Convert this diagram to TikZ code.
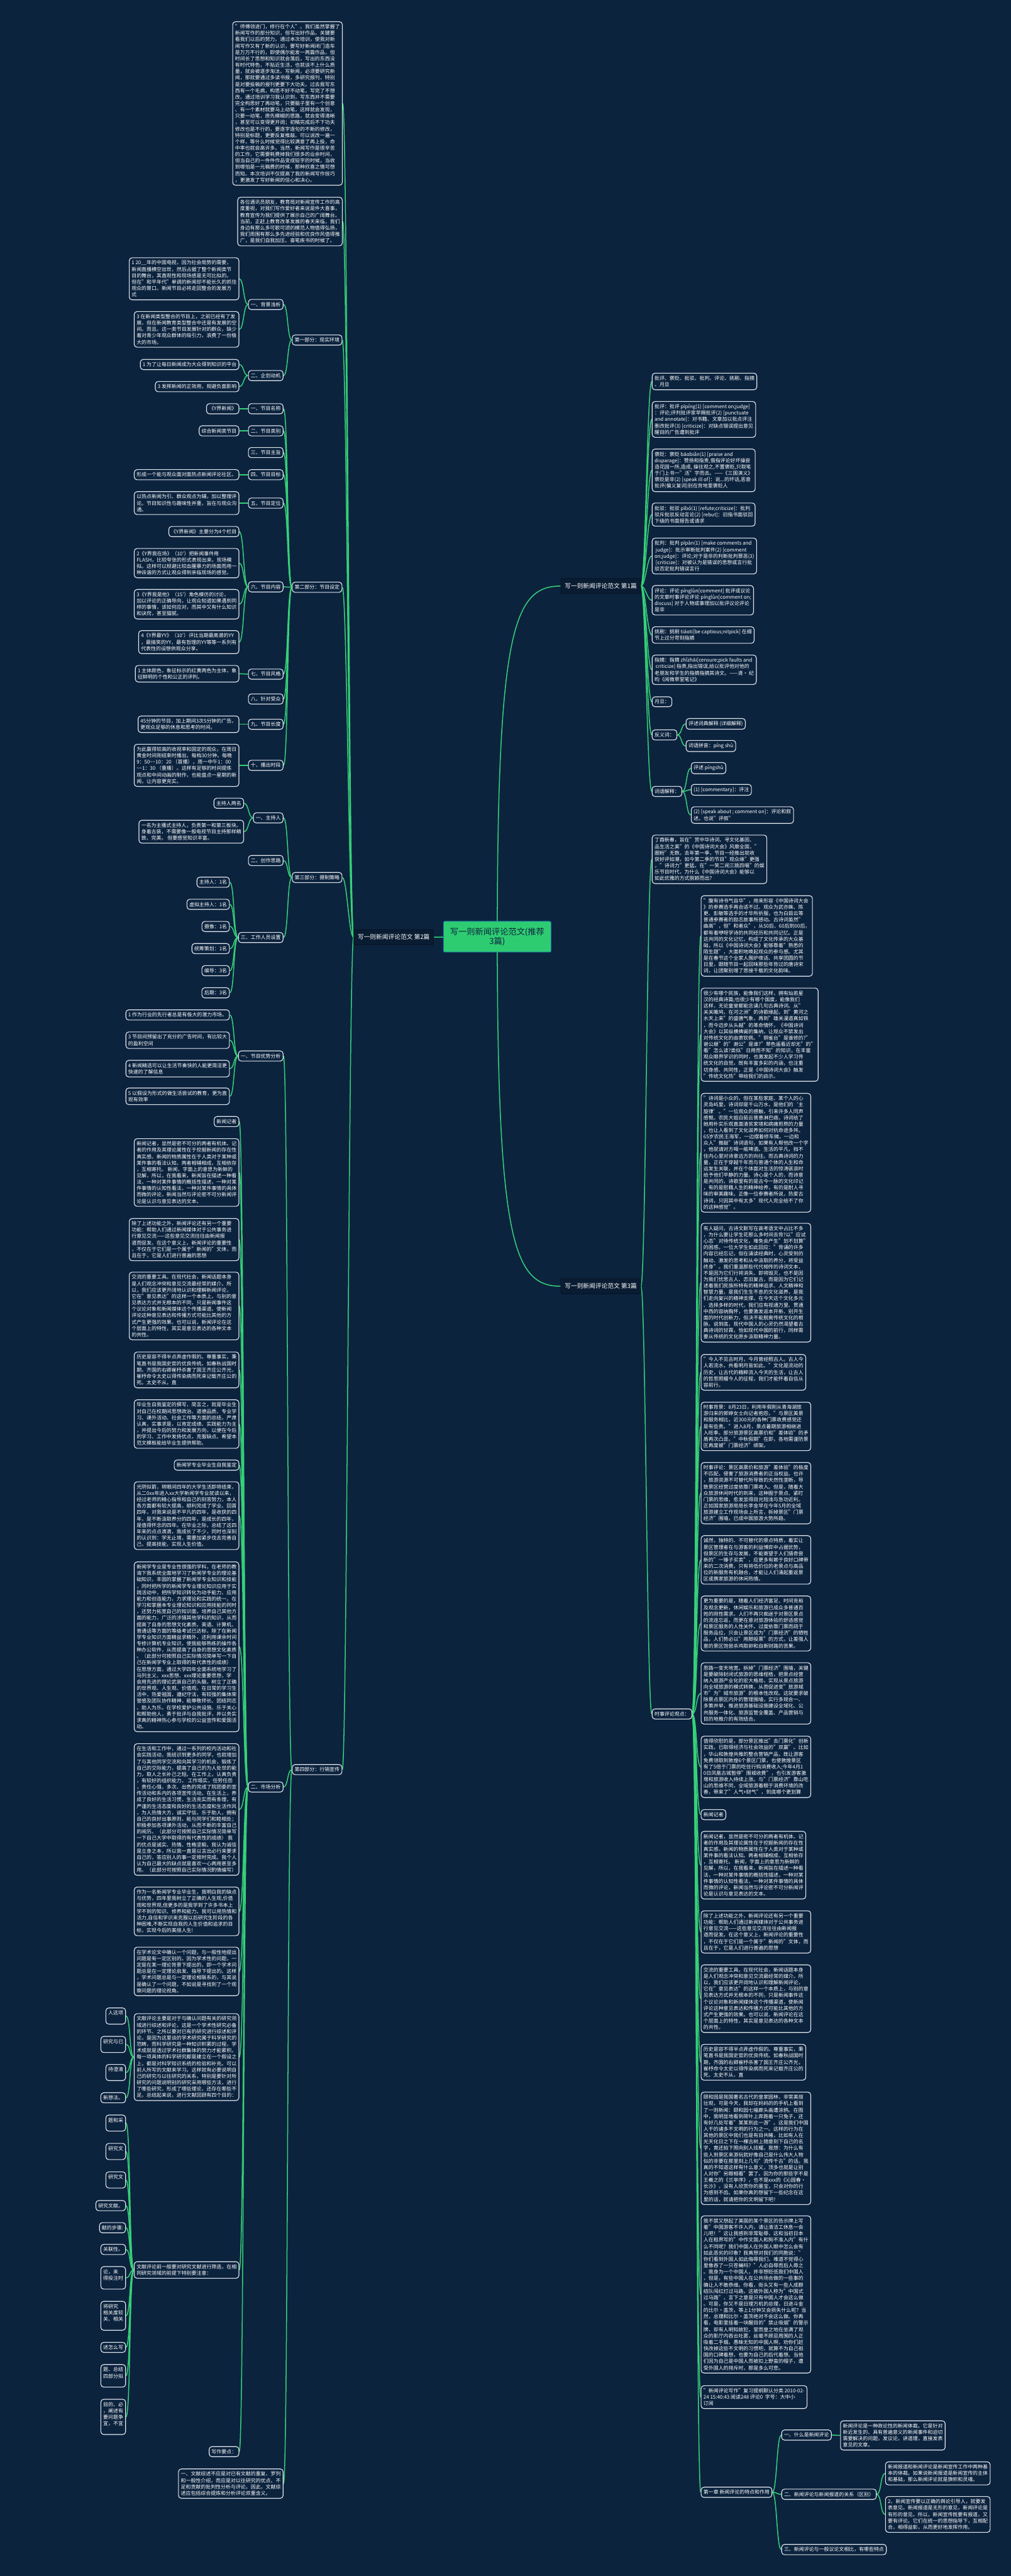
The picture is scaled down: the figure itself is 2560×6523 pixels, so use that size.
\documentclass[tikz,border=0pt]{standalone}
\usepackage{fontspec}
\setmainfont{Noto Sans CJK SC}
\usetikzlibrary{calc}
\definecolor{bgc}{RGB}{12,35,62}
\definecolor{lineg}{RGB}{54,209,120}
\definecolor{boxline}{RGB}{225,230,236}
\definecolor{rootg}{RGB}{46,204,113}
\pgfdeclarelayer{bgl}\pgfdeclarelayer{edges}\pgfsetlayers{bgl,edges,main}
\tikzset{
 box/.style={draw=boxline, line width=0.45mm, fill=bgc, rounded corners=1.8mm, text=white, align=left, inner xsep=1.5mm, inner ysep=1.75mm, font=\fontsize{9pt}{11.5pt}\selectfont},
 lbl/.style={draw=black!55!bgc, line width=0.3mm, fill=bgc!80!black, text=white, rounded corners=0.8mm, inner xsep=2.5mm, minimum height=9.5mm, font=\fontsize{11pt}{13pt}\selectfont},
 rootnode/.style={fill=rootg, draw=rootg!60!blue, line width=0.4mm, rounded corners=0.8mm, text=bgc, align=center, minimum width=68mm, minimum height=19.5mm, font=\fontsize{15pt}{17pt}\selectfont},
 conn/.style={draw=lineg, line width=0.6mm},
}
\newcommand\Ledge[2]{\draw[conn] (#1.west) .. controls +(-12,0) and +(12,0) .. (#2.east);}
\newcommand\Redge[2]{\draw[conn] (#1.east) .. controls +(12,0) and +(-12,0) .. (#2.west);}
\begin{document}
\begin{tikzpicture}[x=0.25mm,y=-0.25mm]
\useasboundingbox (0,0) rectangle (2560,6523);
\begin{pgfonlayer}{bgl}
\fill[bgc] (0,0) rectangle (2560,6523);
\end{pgfonlayer}
% root and main branches
\node[rootnode] (C) at (1259.5,2372) {写一则新闻评论范文(推荐\\3篇)};
\node[lbl, anchor=west] (B1) at (1420,1484) {写一则新闻评论范文 第1篇};
\node[lbl, anchor=east] (B2) at (1099,2373) {写一则新闻评论范文 第2篇};
\node[lbl, anchor=west] (B3) at (1420,3257) {写一则新闻评论范文 第3篇};
% ===== LEFT: 第2篇 =====
\node[box, anchor=east] (LA) at (868,262) {"师傅领进门，修行在个人"。我们虽然掌握了\\新闻写作的部分知识，但写出好作品，关键要\\看我们以后的努力。通过本次培训，使我对新\\闻写作又有了新的认识，要写好新闻闭门造车\\是万万不行的，即使偶尔能发一两篇作品，但\\时间长了思想和知识就会落后，写出的东西没\\有时代特色，不贴近生活，也就谈不上什么质\\量，就会被逐步淘汰。写新闻，必须要研究新\\闻，那就要通过多读书报，多研究报刊，特别\\是对要投稿的报刊更要下大功夫。过去我写东\\西有一个毛病，构思不好不动笔，写完了不想\\改。通过培训学习我认识到，写东西并不需要\\完全构思好了再动笔，只要脑子里有一个创意\\、有一个素材就要马上动笔，这样就会发现，\\只要一动笔，原先模糊的思路，就会变得清晰\\，甚至可以变得更开阔；初稿完成后不下功夫\\修改也是不行的，要逐字逐句的不断的修改，\\特别是标题，更要反复推敲。可以说改一遍一\\个样，等什么时候觉得比较满意了再上投，命\\中率也就会高许多。当然，新闻写作是很辛苦\\的工作，它需要耗费掉我们很多的业余时间，\\但当自己的一件件作品变成铅字的时候，当收\\到哪怕是一元稿费的时候，那种欣喜之情可想\\而知。本次培训不仅提高了我的新闻写作技巧\\，更激发了写好新闻的信心和决心。};
\node[box, anchor=east] (LB) at (868,561) {各位通讯员朋友，教育局对新闻宣传工作的高\\度重视，对我们写作爱好者来说是件大喜事，\\教育宣传为我们提供了展示自己的广阔舞台。\\当前，正赶上教育改革发展的春天来临，我们\\身边有那么多可歌可颂的模范人物值得弘扬，\\我们周围有那么多先进经验和优良作风值得推\\广，是我们自我加压、奋笔疾书的时候了。};
\node[box, anchor=east] (P1) at (867,861) {第一部分：现实环境};
\node[box, anchor=east] (P1a) at (718,771) {一、背景浅析};
\node[box, anchor=east] (P1a1) at (606,706) {1 20\_\_年的中国电视，因为社会局势的需要，\\新闻直播横空出世，然后占据了整个新闻类节\\目的舞台，其直观性和现场感是无可比拟的。\\但在"和平年代"单调的新闻却不能长久的抓住\\观众的胃口。新闻节目必将走回整合的发展方\\式};
\node[box, anchor=east] (P1a2) at (606,834) {3 在新闻类型整合的节目上，之前已经有了发\\展，但在新闻教育类型整合中还是有发展的空\\间。而且。这一类节目发展针对的群众，缺少\\着对青少年观众群体的吸引力，浪费了一份极\\大的市场。};
\node[box, anchor=east] (P1b) at (718,951) {二、企划动机};
\node[box, anchor=east] (P1b1) at (606,923) {1 为了让每日新闻成为大众得到知识的平台};
\node[box, anchor=east] (P1b2) at (606,979) {3 发挥新闻的正效用，规避负面影响};
\node[box, anchor=east] (P2) at (867,1487) {第二部分：节目设定};
\node[box, anchor=east] (S1) at (718,1035) {一、节目名称};
\node[box, anchor=east] (S1c) at (606,1035) {《Y界新闻》};
\node[box, anchor=east] (S2) at (718,1091) {二、节目类别};
\node[box, anchor=east] (S2c) at (606,1091) {综合新闻类节目};
\node[box, anchor=east] (S3) at (718,1146) {三、节目主旨};
\node[box, anchor=east] (S4) at (718,1202) {四、节目目标};
\node[box, anchor=east] (S4c) at (606,1202) {形成一个能与观众面对面热点新闻评论社区。};
\node[box, anchor=east] (S5) at (718,1274) {五、节目定位};
\node[box, anchor=east] (S5c) at (606,1274) {以热点新闻为引、群众观点为辅，加以整理评\\论。节目知识性与趣味性并重，旨在与观众沟\\通。};
\node[box, anchor=east] (S6) at (718,1486) {六、节目内容};
\node[box, anchor=east] (S6a) at (606,1346) {《Y界新闻》主要分为4个栏目};
\node[box, anchor=east] (S6b) at (606,1426) {2《Y界我在场》（10′）把新闻事件用\\FLASH，比较夸张的形式表现出来，现场模\\拟。这样可以规避比较血腥暴力的场面而用一\\种诙谐的方式让观众得到亲临现场的感觉。};
\node[box, anchor=east] (S6c) at (606,1530) {3《Y界我是他》（15′）角色模仿的讨论，\\加以评论的正确导向，让观众知道如果遇到同\\样的事情，该如何应对，而其中又有什么知识\\和诀窍，甚至猫腻。};
\node[box, anchor=east] (S6d) at (606,1626) {4《Y界最YY》（10′）评比当期最离谱的YY\\，最搞笑的YY，最有哲理的YY等等一系列有\\代表性的设想供观众分享。};
\node[box, anchor=east] (S7) at (718,1707) {七、节目风格};
\node[box, anchor=east] (S7c) at (606,1706) {1 主体颜色，象征标示的红黄两色为主体，象\\征鲜明的个性和公正的评判。};
\node[box, anchor=east] (S8) at (718,1770) {八、针对受众};
\node[box, anchor=east] (S9) at (718,1834) {九、节目长度};
\node[box, anchor=east] (S9c) at (606,1834) {45分钟的节目，加上期间3次5分钟的广告。\\更观众足够的休息和思考的时间。};
\node[box, anchor=east] (S10) at (718,1938) {十、播出时段};
\node[box, anchor=east] (S10c) at (606,1938) {为此赢得较高的收视率和固定的观众，在周日\\黄金时间刚结束时播出，每档30分钟。每晚\\9：50\textasciitilde\textasciitilde 10：20 （首播），周一中午1：00\\\textasciitilde\textasciitilde 1：30 （重播）。这样有足够的时间提炼\\观点和中间动画的制作，也能盘点一星期的新\\闻，让内容更充实。};
\node[box, anchor=east] (P3) at (867,2222) {第三部分：摄制策略};
\node[box, anchor=east] (H1) at (718,2071) {一、主持人};
\node[box, anchor=east] (H1a) at (618,2034) {主持人两名};
\node[box, anchor=east] (H1b) at (618,2106) {一名为主播式主持人，负责第一和第三板块。\\身着古装，不需要像一般电视节目主持那样精\\致、完美。 但要感觉知识丰富。};
\node[box, anchor=east] (H2) at (718,2179) {二、创作思路};
\node[box, anchor=east] (H3) at (718,2374) {三、工作人员设置};
\node[box, anchor=east] (W1) at (582,2234) {主持人：1名};
\node[box, anchor=east] (W2) at (582,2290) {虚拟主持人：1名};
\node[box, anchor=east] (W3) at (582,2346) {摄像：1名};
\node[box, anchor=east] (W4) at (582,2402) {统筹策划：1名};
\node[box, anchor=east] (W5) at (582,2458) {编导：3名};
\node[box, anchor=east] (W6) at (582,2514) {后期：3名};
\node[box, anchor=east] (P4) at (867,4481) {第四部分：行销宣传};
\node[box, anchor=east] (Y1) at (718,2674) {一、节目优势分析};
\node[box, anchor=east] (Y1a) at (582,2570) {1 作为行业的先行者总是有极大的潜力市场。};
\node[box, anchor=east] (Y1b) at (582,2634) {3 节目间预留出了充分的广告时间，有比较大\\的盈利空间};
\node[box, anchor=east] (Y1c) at (582,2706) {4 新闻精选可以让生活节奏快的人能更简洁更\\快速的了解信息};
\node[box, anchor=east] (Y1d) at (582,2776) {5 以假设为形式的做生活尝试的教育，更为直\\观有效率};
\node[box, anchor=east] (Y2) at (718,4525) {二、市场分析};
\node[box, anchor=east] (Y3) at (718,6289) {一、文献综述不应是对已有文献的重复、罗列\\和一般性介绍，而应是对以往研究的优点、不\\足和贡献的批判性分析与评论。因此，文献综\\述应包括综合提炼和分析评论双重含义。};
\node[box, anchor=east] (M1) at (606,2840) {新闻记者};
\node[box, anchor=east] (M2) at (606,2969) {新闻记者，显然是密不可分的两者有机体。记\\者的作用及其理论属性在于挖掘新闻的存在性\\真实感。新闻的物质属性在于人类对于某种或\\某件事的看法认知。两者相辅相成，互相依存\\，互相寄托。 新闻，字面上的意思为新鲜的\\见解，所以，在我看来，新闻旨在描述一种看\\法，一种对某件事情的概括性描述，一种对某\\件事情的认知性看法，一种对某件事情的具体\\而微的评论，新闻当然与评论密不可分新闻评\\论是认识与意见表达的文本。};
\node[box, anchor=east] (M3) at (606,3139) {除了上述功能之外，新闻评论还有另一个重要\\功能：帮助人们通过新闻媒体对于公共事务进\\行意见交流——这些意见交流往往由新闻报\\道而促发。在这个意义上，新闻评论的重要性\\，不仅在于它们是一个属于"新闻的"文体，而\\且在于，它是人们进行普遍的思想};
\node[box, anchor=east] (M4) at (606,3307) {交流的重要工具。在现代社会，新闻话题本身\\是人们观念冲突和意见交流最经常的媒介。所\\以，我们应该更开阔地认识和理解新闻评论，\\它在"意见表达"的这样一个本质上，与别的意\\见表达方式并无根本的不同，只是新闻事件这\\个议论对象和新闻媒体这个传播渠道，使新闻\\评论这种意见表达和传播方式可能比其他的方\\式产生更强的效果。也可以说，新闻评论在这\\个层面上的特性，其实是意见表达的各种文本\\的共性。};
\node[box, anchor=east] (M5) at (606,3469) {历史是容不得半点弄虚作假的。尊重事实，秉\\笔直书是我国史官的优良传统。如春秋战国时\\期，齐国的右卿崔杼杀害了国王齐庄公齐光，\\崔杼命令太史以得传染病而死来记载齐庄公的\\死。太史不从，直};
\node[box, anchor=east] (M6) at (606,3606) {毕业生自我鉴定的撰写，简言之，就是毕业生\\对自己在校期间思想政治、道德品质、专业学\\习、课外活动、社会工作等方面的总结，严肃\\认真，实事求是，以肯定成绩、实践能力为主\\，并提出今后的努力和发展方向，以便在今后\\的学习、工作中发扬优点，克服缺点。希望本\\范文模板能给毕业生提供帮助。};
\node[box, anchor=east] (M7) at (606,3710) {新闻学专业毕业生自我鉴定};
\node[box, anchor=east] (M8) at (606,3838) {光阴似箭，转眼间四年的大学生活即将结束，\\从二0xx年进入xx大学新闻学专业就读以来，\\经过老师的精心指导和自己的刻苦努力，本人\\各方面都有较大提高，顺利完成了学业。回首\\四年，对我来说是不平凡的四年，是收获的四\\年，是不断汲取养分的四年，是成长的四年，\\是值得怀念的四年。在毕业之际，总结了这四\\年来的点点滴滴，我成长了不少，同时也深刻\\的认识到：学无止境，需要加紧步伐去完善自\\己，提高技能，实现人生价值。};
\node[box, anchor=east] (M9) at (606,4170) {新闻学专业是专业性很强的学科，在老师的教\\诲下我系统全面地学习了新闻学专业的理论基\\础知识，丰固的掌握了新闻学专业知识和技能\\，同时把所学的新闻学专业理论知识应用于实\\践活动中，把所学知识转化为动手能力、应用\\能力和创造能力，力求理论和实践的统一。在\\学习和掌握本专业理论知识和应用技能的同时\\，还努力拓宽自己的知识面，培养自己其他方\\面的能力，广泛的涉猎其他学科的知识，从而\\提高了自身的思想文化素质。英语、计算机、\\普通话等方面的等级考试已达标，除了在新闻\\学专业知识方面精益求精外，还利用课余时间\\专修计算机专业知识，使我能够熟练的操作各\\种办公软件，从而提高了自身的思想文化素质\\。（此部分可按照自己实际情况简单写一下自\\己在新闻学专业上取得的有代表性的成绩）\\在思想方面，通过大学四年全面系统地学习了\\马列主义、xxx思想、xxx理论重要思想，学\\会用先进的理论武装自己的头脑，树立了正确\\的世界观、人生观、价值观。在日常的学习生\\活中，热爱祖国，遵纪守法，有较强的集体荣\\誉感及团队协作精神，能尊敬师长、团结同志\\、助人为乐。在学校爱护公共设施、乐于关心\\和帮助他人，勇于批评与自我批评，并以务实\\求真的精神热心参与学校的公益宣传和爱国活\\动。};
\node[box, anchor=east] (M10) at (606,4582) {在生活和工作中，通过一系列的校内活动和社\\会实践活动，我结识到更多的同学，也就增加\\了与其他同学交流和向其学习的机会，锻炼了\\自己的交际能力，提高了自己的为人处世的能\\力，取人之长补己之短。在工作上，认真负责\\，有较好的组织能力， 工作塌实，任劳任怨\\，责任心强，多次、出色的完成了院团委的宣\\传活动和系内的各项宣传活动。在生活上，养\\成了良好的生活习惯，生活充实而有条理，有\\严谨的生活态度和良好的生活态度和生活作风\\，为人热情大方，诚实守信，乐于助人，拥有\\自己的良好出事原则，能与同学们和睦相处；\\积极参加各项课外活动，从而不断的丰富自己\\的阅历。（此部分可按照自己实际情况简单写\\一下自己大学中取得的有代表性的成绩） 我\\的优点是诚实、热情、性格坚毅。我认为诚信\\是立身之本，所以我一直是以言出必行来要求\\自己的，答应别人的事一定按时完成。我个人\\认为自己最大的缺点就是喜欢一心两用甚至多\\用。（此部分可按照自己实际情况酌情编写）};
\node[box, anchor=east] (M11) at (606,4840) {作为一名新闻学专业毕业生，我明白我的缺点\\与优势，四年里我树立了正确的人生观,价值\\观和世界观,但更多的是我学到了许多书本上\\学不到的知识、修养和能力。我可以用热情和\\活力,自信和学识来克服以后研究生阶段的各\\种困难,不断实现自我的人生价值和追求的目\\标，实现今后的美丽人生!};
\node[box, anchor=east] (M12) at (606,4992) {在学术论文中确认一个问题，与一般性地提出\\问题是有一定区别的。因为学术性的问题，一\\定是在某一理论背景下提出的，即一个学术问\\题总是在一定理论启发、指导下提出的。这样\\，学术问题总是与一定理论相联系的，与其说\\是确认了一个问题，不如说是寻找到了一个观\\察问题的理论视角。};
\node[box, anchor=east] (M13) at (606,5209) {文献评论主要是对于与确认问题有关的研究领\\域进行综述和评论，这是一个学术性研究必备\\的环节。之所以要对已有的研究进行综述和评\\论，是因为这里谈的学术研究属于科学研究的\\范畴，而科学研究是一种知识积累的过程，学\\术成就是透过学术社群集体的努力才能累积。\\每一项具体的科学研究都是建立在一个假设之\\上，都是对科学知识系统的检验和补充。可以\\前人所写的文献来学习。这样就有必要说明自\\己的研究与以往研究的关系，特别是要针对所\\研究的问题说明别的研究采用哪些方法，进行\\了哪些研究，形成了哪些理论，还存在哪些不\\足。总结起来说，进行文献回顾有四个目的：};
\node[box, anchor=east] (M14) at (606,5748) {文献评论前一般要对研究文献进行筛选，在相\\同研究领域的前提下特别要注意：};
\node[box, anchor=east] (M15) at (606,6208) {写作要点：};
% far-left (placeholders)
\node[box, anchor=east] (A1) at (319,5105) {人这项\\ };
\node[box, anchor=east] (A2) at (319,5177) {研究与已\\ };
\node[box, anchor=east] (A3) at (319,5248) {待澄清\\ };
\node[box, anchor=east] (A4) at (319,5312) {新想法。};
\node[box, anchor=east] (Q1) at (319,5376) {题和采\\ };
\node[box, anchor=east] (Q2) at (319,5448) {研究文\\ };
\node[box, anchor=east] (Q3) at (319,5520) {研究文\\ };
\node[box, anchor=east] (Q4) at (319,5585) {研究文献。};
\node[box, anchor=east] (Q5) at (319,5641) {献的步骤:};
\node[box, anchor=east] (Q6) at (319,5696) {关联性。};
\node[box, anchor=east] (Q7) at (319,5768) {论，来\\得投注时\\ };
\node[box, anchor=east] (Q8) at (319,5864) {将研究\\相关度较\\关、相关\\ };
\node[box, anchor=east] (Q9) at (319,5944) {述怎么写};
\node[box, anchor=east] (Q10) at (319,6016) {题、总结\\四部分拟\\ };
\node[box, anchor=east] (Q11) at (319,6120) {目的、必\\，阐述有\\要问题争\\宜，不宜\\ };
% ===== RIGHT: 第1篇 =====
\node[box, anchor=west] (R1) at (1651,966) {批评、褒贬、批驳、批判、评论、挑剔、指摘\\、月旦};
\node[box, anchor=west] (R2) at (1651,1062) {批评：批评 pīpíng(1) [comment on;judge]\\：评论;评判批评家早赐批评(2) [punctuate\\and annotate]：对书籍、文章加以批点评注\\删改批评(3) [criticize]：对缺点错误提出意见\\醒目的广告遭到批评};
\node[box, anchor=west] (R3) at (1651,1191) {褒贬：褒贬 bāobiǎn(1) [praise and\\disparage]：赞扬和指责,借指评论好坏操尝\\造花园一所,造成, 操往观之,不置褒贬,只取笔\\于门上书一"活"字而去。——《三国演义》\\褒贬是非(2) [speak ill of]：说...的坏话,恶意\\批评(偏义复词)别在背地里褒贬人};
\node[box, anchor=west] (R4) at (1651,1303) {批驳：批驳 pībó(1) [refute;criticize]：批判\\驳斥批驳反动言论(2) [rebut]：旧指书面驳回\\下级的书面报告或请求};
\node[box, anchor=west] (R5) at (1651,1408) {批判：批判 pīpàn(1) [make comments and\\{} judge]：批示审断批判案件(2) [comment\\on;judge]：评论;对于是非的判断批判罪恶(3)\\{} [criticize]：对被认为是错误的思想或言行批\\驳否定批判错误言行};
\node[box, anchor=west] (R6) at (1651,1520) {评论：评论 pínglùn[comment] 批评或议论\\的文章时事评论评论 pínglùn[comment on;\\discuss] 对于人物或事理加以批评议论评论\\是非};
\node[box, anchor=west] (R7) at (1651,1608) {挑剔：挑剔 tiāoti[be captious;nitpick] 在细\\节上过分苛刻指摘};
\node[box, anchor=west] (R8) at (1651,1696) {指摘：指摘 zhǐzhāi[censure;pick faults and\\{} criticize] 指责,指出错误,给以批评他对他的\\老朋友和学生的指摘指摘其诗文。——清· 纪\\昀《阅微草堂笔记》};
\node[box, anchor=west] (R9) at (1651,1777) {月旦：};
\node[box, anchor=west] (R10) at (1651,1861) {反义词：};
\node[box, anchor=west] (R10a) at (1737,1833) {评述词典解释 (详细解释)};
\node[box, anchor=west] (R10b) at (1737,1889) {词语拼音：píng shù};
\node[box, anchor=west] (R11) at (1651,2004) {词语解释：};
\node[box, anchor=west] (R11a) at (1750,1945) {评述 píngshù};
\node[box, anchor=west] (R11b) at (1750,2000) {(1) [commentary]：评注};
\node[box, anchor=west] (R11c) at (1750,2064) {(2) [speak about ; comment on]：评论和叙\\述。也说"评叙"};
% ===== RIGHT: 第3篇 =====
\node[box, anchor=west] (T1) at (1651,2176) {丁酉新春，旨在"赏中华诗词、寻文化基因、\\品生活之美"的《中国诗词大会》风靡全国，"\\圈粉"无数。去年第一季，节目一经推出就收\\获好评如潮，如今第二季的节目"观众缘"更强\\，"诗词力"更猛。在"一笑二闹三跳四唱"的娱\\乐节目时代，为什么《中国诗词大会》能够以\\如此优雅的方式脱颖而出？};
\node[box, anchor=west] (T2) at (1651,4340) {时事评论观点：};
\node[box, anchor=west] (Ta) at (1775,2370) {"腹有诗书气自华"，用来形容《中国诗词大会\\》的参赛选手再合适不过。观众为武亦姝、陈\\更、彭敏等选手的才华所折服，也为白茹云等\\普通参赛者的励志故事所感动。古诗词虽然"\\曲高"，但"和者众"，从50后、60后到00后，\\都有着咿呀学诗的共同经历和共同记忆。正是\\这共同的文化记忆，构成了文化传承的大众基\\础，所以《中国诗词大会》能够靠着"熟悉的\\陌生题"，大面积地唤起观众的参与感。尤其\\是在春节这个全家人围炉夜话、共享团圆的节\\日里，跟随节目一起回味那些年背过的唐诗宋\\词，让团聚别增了思接千载的文化韵味。};
\node[box, anchor=west] (Tb) at (1775,2620) {很少有哪个民族，能像我们这样，拥有灿若星\\汉的经典诗篇;也很少有哪个国度，能像我们\\这样，无论童叟都能念诵几句古典诗词。从"\\关关雎鸠，在河之洲"的诗歌缘起，到"黄河之\\水天上来"的盛唐气象，再到"雄关漫道真如铁\\，而今迈步从头越"的革命情怀，《中国诗词\\大会》以其纵横捭阖的集纳，让观众不禁发出\\对传统文化的由衷钦佩。"铜雀台"是谁修的?"\\谢公屐"的"谢公"是谁?"草色遥看近却无"的"\\看"怎么读?类似"日用而不知"的知识，在丰富\\观众眼界学识的同时，也激发起不少人学习传\\统文化的自觉。既有丰富多彩的内涵，也注重\\切身感、共同性，正是《中国诗词大会》触发\\"传统文化热"带给我们的启示。};
\node[box, anchor=west] (Tc) at (1775,2919) {"诗词是小众的，但在某些家庭、某个人的心\\灵岛屿里，诗词却是千山万水，是他们的‘主\\旋律’。"一位观众的感触，引来许多人同声\\感慨。农民大姐白茹云曾患淋巴癌，诗词给了\\她用朴实乐观直面清贫家境和病痛煎熬的力量\\，也让人看到了文化滋养如何对抗命途多舛。\\65岁农民王海军，一边摆着修车摊，一边和\\众人"推敲"诗词语句，如果有人帮他改一个字\\，他就请对方喝一瓶啤酒。生活的平凡，挡不\\住内心里对诗意远方的向往。而古典诗词的力\\量，正在于穿越千年而与普通个体的人生和命\\运发生关联，并在个体面对生活的惊涛骇浪时\\给予他们平静的力量。诗心是个人的，而诗意\\是共同的，诗歌里有的是古今一脉的文化印记\\，有的是慰藉人生的精神给养，有的是耐人寻\\味的审美趣味。正像一位参赛者所说，热爱古\\诗词，只因其中有太多"现代人完全给不了你\\的这种感觉"。};
\node[box, anchor=west] (Td) at (1775,3248) {有人疑问，古诗文默写在高考语文中占比不多\\，为什么要让学生花那么多时间去背?以"应试\\心态"对待传统文化，难免会产生"划不划算"\\的困惑。一位大学生如此回应："背诵的许多\\内容已经忘记，但在诵读经典时，心灵受到的\\触动、激发的思考和从中汲取的养分，将受益\\终身"。我们重温那些代代相传的诗词文本，\\不是因为它们行将消失、即将毁灭，也不是因\\为我们忧思古人、恋旧复古，而是因为它们记\\述着我们民族所特有的精神追求、人文精神和\\智慧力量，是我们生生不息的文化滋养，是我\\们走向复兴的精神支撑。在今天这个文化多元\\、选择多样的时代，我们应有视通万里、贯通\\中西的容纳胸怀，也要激发返本开新、别开生\\面的时代创新力，但决不能脱离传统文化的根\\脉。说到底，现代中国人的心灵仍然渴望着古\\典诗词的甘霖，恰如现代中国的前行，同样需\\要从传统的文化原乡汲取精神力量。};
\node[box, anchor=west] (Te) at (1775,3475) {"今人不见古时月，今月曾经照古人。古人今\\人若流水，共看明月皆如此。"文化是流动的\\历史，让古代的精粹流入今天的生活，让古人\\的哲思照耀今人的征程，我们才能怀着自信从\\容前行。};
\node[box, anchor=west] (Tf) at (1775,3612) {时事背景：8月23日，利用年假刚从青海湖旅\\游归来的郭婷女士向记者抱怨，"与景区美景\\和服务相比，近300元的各种门票收费感觉还\\是有些贵。"进入8月，景点暑期旅游相继进\\入旺季。部分旅游景区高票价和"差体验"的矛\\盾再次凸显。"中秋假期"在即，各地需谨防景\\区再度被"门票经济"绑架。};
\node[box, anchor=west] (Tg) at (1775,3781) {时事评论：景区高票价和旅游"差体验"的极度\\不匹配，侵害了旅游消费者的正当权益。也许\\，旅游资源不可替代所导致的天然性垄断，导\\致景区经营过度依靠门票收入。但是，随着大\\众旅游休闲时代的到来，这种囿于景点、紧盯\\门票的思维，愈发显得目光短浅与急功近利。\\正如国家旅游局局长李金早在今年5月的全域\\旅游建立工作现场会上所言，拆掉景区"门票\\经济"围墙，已成中国旅游大势所趋。};
\node[box, anchor=west] (Th) at (1775,3950) {诚然，独特的、不可替代的景点特质，着实让\\景区管理者在与游客的利益博弈中占据优势，\\但景区的生存与发展，不能寄望于人们猎奇尝\\新的"一锤子买卖"，应更多有赖于良好口碑带\\来的二次消费。只有将低价位的老景点与高品\\位的新服务有机融合，才能让人们涌起重返景\\区或携家旅游的休闲热情。};
\node[box, anchor=west] (Ti) at (1775,4111) {更为重要的是，随着人们经济富足、时间充裕\\及观念更新，休闲娱乐和旅游已成众多普通百\\姓的刚性需求。人们不再只痴迷于对景区景点\\的流连忘返，而更在意对旅游体验的舒适感觉\\和景区服务的人性关怀。过度依靠门票而疏于\\服务品位，只会让景区成为"门票经济"的牺牲\\品，人们势必以"用脚投票"的方式，让差强人\\意的景区饱尝杀鸡取卵和自断财路的苦果。};
\node[box, anchor=west] (Tj) at (1775,4288) {思路一变天地宽。拆掉"门票经济"围墙，关键\\是要破除封闭式旅游的思维桎梏，把景点经营\\纳入旅游产业化的宏大格局，实现从景点旅游\\向全域旅游的模式转换，从而促进变"旅游城\\市"为"城市旅游"的根本性改观。这就要求破\\除景点景区内外的管理围墙，实行多规合一、\\多策并举，推进旅游基础设施建设全域化、公\\共服务一体化、旅游监管全覆盖、产品营销与\\目的地推介的有效结合。};
\node[box, anchor=west] (Tk) at (1775,4474) {值得欣慰的是，部分景区推出"去门票化"创新\\实践，已取得经济与社会效益的"双赢"。比如\\，华山和敦煌共推的整合营销产品，既让游客\\免费领取到敦煌6个景区门票，也使敦煌景区\\有了5倍于门票的吃住行购消费收入;今年4月1\\0日凤凰古城暂停"围城收费"，也引发游客激\\增和旅游收入持续上涨。与"门票经济"靠山吃\\山的思维不同，全域旅游着眼于消费环境的改\\善，带来了"人气+财气"，到底哪个更划算};
\node[box, anchor=west] (Tl) at (1775,4595) {新闻记者};
\node[box, anchor=west] (Tm) at (1775,4723) {新闻记者，显然是密不可分的两者有机体。记\\者的作用及其理论属性在于挖掘新闻的存在性\\真实感。新闻的物质属性在于人类对于某种或\\某件事的看法认知。两者相辅相成，互相依存\\，互相寄托。 新闻，字面上的意思为新鲜的\\见解，所以，在我看来，新闻旨在描述一种看\\法，一种对某件事情的概括性描述，一种对某\\件事情的认知性看法，一种对某件事情的具体\\而微的评论，新闻当然与评论密不可分新闻评\\论是认识与意见表达的文本。};
\node[box, anchor=west] (Tn) at (1775,4892) {除了上述功能之外，新闻评论还有另一个重要\\功能：帮助人们通过新闻媒体对于公共事务进\\行意见交流——这些意见交流往往由新闻报\\道而促发。在这个意义上，新闻评论的重要性\\，不仅在于它们是一个属于"新闻的"文体，而\\且在于，它是人们进行普遍的思想};
\node[box, anchor=west] (To) at (1775,5061) {交流的重要工具。在现代社会，新闻话题本身\\是人们观念冲突和意见交流最经常的媒介。所\\以，我们应该更开阔地认识和理解新闻评论，\\它在"意见表达"的这样一个本质上，与别的意\\见表达方式并无根本的不同，只是新闻事件这\\个议论对象和新闻媒体这个传播渠道，使新闻\\评论这种意见表达和传播方式可能比其他的方\\式产生更强的效果。也可以说，新闻评论在这\\个层面上的特性，其实是意见表达的各种文本\\的共性。};
\node[box, anchor=west] (Tp) at (1775,5222) {历史是容不得半点弄虚作假的。尊重事实，秉\\笔直书是我国史官的优良传统。如春秋战国时\\期，齐国的右卿崔杼杀害了国王齐庄公齐光，\\崔杼命令太史以得传染病而死来记载齐庄公的\\死。太史不从，直};
\node[box, anchor=west] (Tq) at (1775,5440) {颐和园是我国著名古代的皇家园林，非常美丽\\壮观，可是今天，我却在妈妈的的手机上看到\\了一则新闻：颐和园七幅廊头画遭涂鸦。在图\\中，我明显地看到荷叶上奔跑着一只兔子，还\\有好几处写着"某某到此一游"。这是我们中国\\人干的诸多不文明的行为之一。这样的行为在\\其他的景区中我们也是有目共睹，比如有人在\\光天化日之下在一棵古树上随意刻下自己的名\\字，竟还拍下照向别人炫耀。我想：为什么有\\些人到景区来游玩就好像自己是什么伟大人物\\似的非要在那里刻上几句"流传千古"的话。我\\真的不知道这样有什么意义，顶多也就是让别\\人对你"另眼相看"罢了。因为你的那些字不是\\王羲之的《兰亭序》，也不是xxx的《沁园春·\\长沙》，没有人欣赏你的墨宝，只会对你的行\\为感到不齿。如果你真的想留下一些纪念在这\\里的话，就请把你的文明留下吧！};
\node[box, anchor=west] (Tr) at (1775,5810) {我不禁又想起了美国的某个景区的告示牌上写\\着"中国游客不许入内，请让清洁工休息一会\\儿吧！"这让我感到非常耻辱，这和当初日本\\人在租界写的"中作文国人和狗不准入内"有什\\么不同呢？我们中国人在外国人眼中怎么会有\\如此恶劣的印象？我真想对我们的同胞说："\\你们看到外国人如此侮辱我们，难道不觉得心\\里像吞了一只苍蝇吗？"人必自辱而后人辱之\\。我身为一个中国人，并非想贬低我们中国人\\，但是，有些中国人在公共场合做的一些事的\\确让人不敢恭维。你看，街头又有一些人成群\\结队闯红灯过马路，这被外国人称为"中国式\\过马路"，言下之意是只有中国人才会这么做\\。可是，你又不是日理万机的总理，日进斗金\\的比尔·盖茨，等上1分钟又会损失什么呢？当\\然，总理和比尔·盖茨绝对不会这么做。你再\\看，电影里挂着一块醒目的"禁止吸烟"的警示\\牌，却有人明知故犯，堂而皇之地在坐满了观\\众的影厅内吞云吐雾，丝毫不顾忌周围的人正\\吸着二手烟。愚昧无知的中国人啊，劝你们赶\\快改掉这些不文明的习惯吧，就算不为自己祖\\国的口碑着想，也要为自己的后代着想。当他\\们因为自己是中国人而被扣上野蛮的帽子，遭\\受外国人的排斥时，那是多么可悲。};
\node[box, anchor=west] (Ts) at (1775,6070) {"新闻评论写作"复习提纲默认分类 2010-02-\\24 15:40:43 阅读248 评论0 \ 字号：大中小\\订阅};
\node[box, anchor=west] (Tt) at (1775,6311) {第一章 新闻评论的特点和作用};
\node[box, anchor=west] (Z1) at (1979,6166) {一、什么是新闻评论};
\node[box, anchor=west] (Z1c) at (2128,6167) {新闻评论是一种政论性的新闻体裁。它是针对\\新近发生的、具有普遍意义的新闻事件和迫切\\需要解决的问题，发议论，讲道理，直接发表\\意见的文章。};
\node[box, anchor=west] (Z2) at (1979,6316) {二、新闻评论与新闻报道的关系（区别）};
\node[box, anchor=west] (Z2a) at (2242,6263) {新闻报道和新闻评论是新闻宣传工作中两种基\\本的体裁。如果说新闻报道是新闻宣传的主体\\和基础，那么新闻评论就是旗帜和灵魂。};
\node[box, anchor=west] (Z2b) at (2242,6367) {2、新闻宣传要以正确的舆论引导人，就要发\\表意见。新闻报道是无形的意见，新闻评论是\\有形的意见。所以，新闻宣传既要有报道，又\\要有评论。它们在统一的思想指导下，互相配\\合，相得益彰，从而更好地发挥作用。};
\node[box, anchor=west] (Z3) at (1979,6456) {三、新闻评论与一般议论文相比，有哪些特点};
% ===== connectors =====
\begin{pgfonlayer}{edges}
\draw[conn] (C.center) .. controls (1260,1600) and (1300,1484) .. (B1.west);
\draw[conn] (C.center) .. controls (1260,3140) and (1300,3257) .. (B3.west);
\draw[conn] (C.center) -- (B2.east);
\foreach \c in {LA,LB,P1,P2,P3,P4} {\Ledge{B2}{\c}}
\foreach \c in {P1a,P1b} {\Ledge{P1}{\c}}
\foreach \c in {P1a1,P1a2} {\Ledge{P1a}{\c}}
\foreach \c in {P1b1,P1b2} {\Ledge{P1b}{\c}}
\foreach \c in {S1,S2,S3,S4,S5,S6,S7,S8,S9,S10} {\Ledge{P2}{\c}}
\Ledge{S1}{S1c}\Ledge{S2}{S2c}\Ledge{S4}{S4c}\Ledge{S5}{S5c}\Ledge{S7}{S7c}\Ledge{S9}{S9c}\Ledge{S10}{S10c}
\foreach \c in {S6a,S6b,S6c,S6d} {\Ledge{S6}{\c}}
\foreach \c in {H1,H2,H3} {\Ledge{P3}{\c}}
\foreach \c in {H1a,H1b} {\Ledge{H1}{\c}}
\foreach \c in {W1,W2,W3,W4,W5,W6} {\Ledge{H3}{\c}}
\foreach \c in {Y1,Y2,Y3} {\Ledge{P4}{\c}}
\foreach \c in {Y1a,Y1b,Y1c,Y1d} {\Ledge{Y1}{\c}}
\foreach \c in {M1,M2,M3,M4,M5,M6,M7,M8,M9,M10,M11,M12,M13,M14,M15} {\Ledge{Y2}{\c}}
\foreach \c in {A1,A2,A3,A4} {\Ledge{M13}{\c}}
\foreach \c in {Q1,Q2,Q3,Q4,Q5,Q6,Q7,Q8,Q9,Q10,Q11} {\Ledge{M14}{\c}}
\foreach \c in {R1,R2,R3,R4,R5,R6,R7,R8,R9,R10,R11} {\Redge{B1}{\c}}
\foreach \c in {R10a,R10b} {\Redge{R10}{\c}}
\foreach \c in {R11a,R11b,R11c} {\Redge{R11}{\c}}
\foreach \c in {T1,T2} {\Redge{B3}{\c}}
\foreach \c in {Ta,Tb,Tc,Td,Te,Tf,Tg,Th,Ti,Tj,Tk,Tl,Tm,Tn,To,Tp,Tq,Tr,Ts,Tt} {\Redge{T2}{\c}}
\foreach \c in {Z1,Z2,Z3} {\Redge{Tt}{\c}}
\Redge{Z1}{Z1c}
\foreach \c in {Z2a,Z2b} {\Redge{Z2}{\c}}
\end{pgfonlayer}
\end{tikzpicture}
\end{document}
